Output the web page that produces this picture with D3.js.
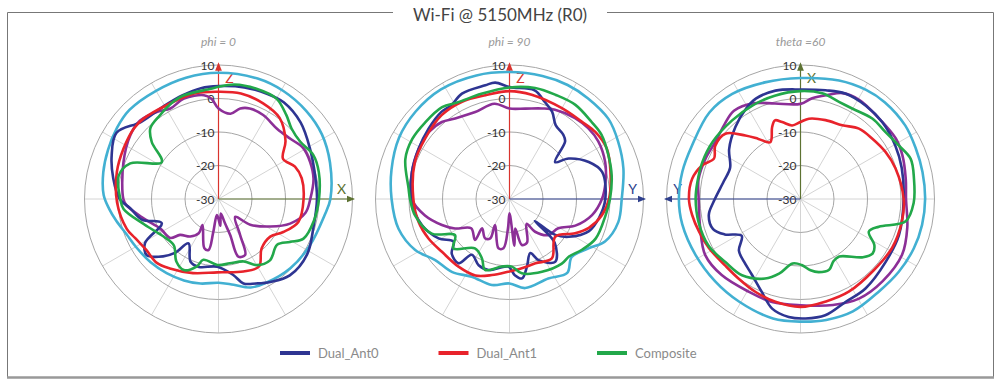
<!DOCTYPE html>
<html>
<head>
<meta charset="utf-8">
<script src="https://cdn.jsdelivr.net/npm/d3@7"></script>
<style>
  body { margin: 0; background: #fff; }
  svg text { font-family: Lato, "Open Sans", sans-serif; }
</style>
</head>
<body>
<div id="chart"></div>
<script>
// Chart text
var chartTitle = "Wi-Fi @ 5150MHz (R0)";
var subTitles = ["phi = 0", "phi = 90", "theta =60"];
var legendNames = ["Dual_Ant0", "Dual_Ant1", "Composite"];
var ringTicks = [10, 0, -10, -20, -30];

// Series as [angle deg (clockwise from up), gain dB]
// phi = 0
var phi0Cyan = [[0,7.7],[18,7.8],[31,7.6],[45,7.1],[58,6.4],[72,5.0],[90,3.4],[99,2.0],[117,0.6],[134,-0.2],[150,-1.2],[160,-1.9],[170,-4],[180,-5],[192,-4.2],[203,-3.6],[215,-3],[227,-2.3],[240,-1.5],[249,-0.6],[258,1.2],[265,2.8],[272,4.3],[283,5.3],[294,6.1],[305,7],[315,7.6],[330,7.3],[345,7.5]];
var phi0Ant0 = [[0,3.7],[13,4.2],[25,4.6],[34,4.8],[47,3.5],[61,1.2],[76,-0.3],[90,-0.6],[107,-0.4],[122,1.2],[137,1.2],[148,-0.8],[156,-2.4],[163.5,-3.7],[169,-6.9],[181,-9.8],[196,-8.9],[204,-9.5],[214,-14],[219,-9.3],[224,-6.2],[232,-2.8],[239,-4.4],[247,-11.6],[255,-6.3],[264,-3.5],[270,-0.5],[281,2],[292,4.4],[303,6.3],[315,2.6],[330,2.2],[341,2.8],[351,3.5]];
var phi0Ant1 = [[0,2.0],[12,2.2],[25,1.5],[37,0.3],[49,-3.5],[58,-7.3],[67,-5.2],[76,-4.4],[90,-4.6],[106,-5.2],[117,-8.3],[126,-10.9],[139,-10.4],[149,-6.5],[161,-7.1],[181,-8.1],[199,-6.6],[215,-4.7],[224,-3.5],[235,-3.6],[245,-2.5],[252,-1.2],[268,0.3],[285,1.4],[298,2.1],[310,2.9],[317,2.8],[331,2],[347,2.3]];
var phi0Comp = [[0,3.5],[8,4.5],[19,4.8],[30,4.6],[39,2.2],[46,0.3],[55,-0.2],[65,1.2],[75,1.0],[90,0],[103,-0.8],[115,-2],[121,-5.1],[128,-7.8],[140,-6.1],[150,-7.2],[158,-9.9],[170,-10.5],[181,-10.3],[194,-11.3],[198,-8.8],[206,-6.4],[214,-7.5],[224,-10.8],[236,-10.1],[251,-6.6],[264,-1.5],[270,-0.7],[283,0.6],[292,-1.6],[303,-9.8],[310.5,-3.8],[316,-0.7],[325,0.5],[335,2],[341,2.6],[356,3]];
var phi0Purple = [[0,-3],[8,-4.3],[13.5,-2.2],[19,-1.4],[28,-1.6],[40,-2.7],[50,-2],[59,-0.5],[68,-0.5],[78,-1],[90,-2.6],[99,-3.7],[109,-7.4],[118,-12.5],[129,-17.8],[137,-22.7],[149,-17.5],[154.5,-11.5],[161,-11.8],[162,-18.7],[165,-22.4],[171,-25.6],[176,-22],[180,-24],[186,-25.2],[189,-20],[191,-14.5],[196,-14.7],[211.6,-20.9],[210,-18.2],[217,-16],[227,-14.3],[231,-11.5],[243,-10.5],[255.5,-6.9],[266,-2.5],[270,-1.6],[291,0.4],[306,2.5],[315,3.1],[325,1.8],[332,0.6],[341,1.7],[352,1.3],[356,0]];

// phi = 90
var phi90Cyan = [[0,7.9],[15,8.0],[27,8.2],[38,8.1],[51,8],[62,6.7],[75,5.2],[90,3.5],[102,3.2],[114,1.2],[122,-2.2],[133,-4.6],[142,-2],[154,-3.6],[170,-3],[180,-4.8],[191.6,-3.8],[206,-4.2],[218,-2.3],[230.6,-1.3],[241.6,2],[255,4.3],[270,5.2],[284,6.3],[299,7.7],[313,8.3],[328,8.6],[345,8.2]];
var phi90Ant0 = [[0,3.4],[13,3.3],[20,0.8],[26,-1],[32,-4],[40,-5],[44,-6.1],[51,-12.5],[55.6,-8.6],[65,-3.9],[73.7,-1.2],[90,-1.4],[102,-2.7],[112,-4.4],[122.5,-9],[128,-12.6],[131,-20],[134,-11.3],[144,-6.8],[154.6,-9.8],[159,-12.7],[165.6,-9.1],[171,-6],[176,-7.2],[181,-9.8],[196.5,-7.9],[205,-8.2],[214,-9.9],[218.4,-5.5],[226.7,-6.3],[232.7,-9],[241,-5.8],[253.5,-2.7],[268.4,-0.8],[285.5,0.2],[299,1],[311,2],[322,3],[328,2.9],[335.7,4.5],[348,4.7],[353,5]];
var phi90Ant1 = [[0,2.2],[12,1.8],[30,1.3],[43,1.6],[52,2.5],[62.6,2.7],[75,1.2],[90,-0.3],[100,-2],[110,-4.8],[117.6,-7.9],[129.5,-12.3],[144.5,-8.2],[158,-9.3],[170,-9],[181,-8.3],[193,-6.7],[204,-5],[217,-4.7],[232,-4.4],[244,-3.1],[256,-2],[270,-1.3],[291,0.3],[305.6,1],[321,2.2],[334,2.3],[347,1.8]];
var phi90Comp = [[0,3.3],[13,4],[24,4],[35,4.3],[47,3.6],[55,3.5],[66,2.3],[77,1.3],[90,0],[99.5,-0.9],[114.7,-1.7],[125,-3.6],[134,-5.3],[141,-5.2],[156,-6.2],[170.6,-7.5],[178,-9.8],[186.5,-9.7],[199,-7.6],[205,-10.5],[215,-12],[228.6,-7.7],[236.5,-10.5],[246,-4.6],[260,-1.4],[270,-0.3],[276,0.3],[291,3.3],[301.7,4.1],[312,4],[323.7,4],[332,2.7],[345,2.5]];
var phi90Purple = [[0,-3],[10,-2.6],[19.7,-1.3],[27,-0.1],[39,1.1],[48,1.6],[57,1.6],[69,0.6],[80,-0.9],[90,-2.4],[101,-4.9],[112,-8.8],[121,-13],[133,-14.2],[142,-17.6],[145.5,-21],[158,-16],[165,-15.8],[169,-21],[174,-16],[180,-25.7],[183,-21.2],[187,-15.2],[192.6,-14.9],[209,-21.1],[206,-16.9],[212,-16.2],[223,-18],[220,-14],[232.6,-15.6],[241.6,-11.5],[249,-8.4],[259,-4.3],[270,-0.8],[285,0.2],[299,1],[309.6,1.3],[318.7,0.6],[326,-1],[338.5,-2.1],[351,-1.2]];

// theta = 60
var th60Cyan = [[0,6.1],[18,7.2],[31,8.0],[41,8.3],[55,8.2],[66,7.6],[77.5,7.3],[90,7.2],[102,7.1],[113.5,6.9],[126.5,6.5],[140,6.2],[155,7],[168,6.9],[180,6.6],[193,6.6],[211,5.7],[226,5.4],[242,5.5],[258,6.1],[270,6.3],[283,6.2],[296,6.1],[313.5,7.5],[327,7.4],[343,6.4]];
var th60Ant0 = [[0,2.7],[13,3.3],[23,4.2],[35,4],[46.7,3.5],[60.5,2.5],[73,1.6],[90,0.8],[110,1.3],[126.4,1.6],[144,3],[156,3.5],[168,5.5],[177.6,5.7],[185.7,5.4],[194.5,3.8],[202.5,0.1],[212.5,-3.1],[222,-4.8],[230,-6],[238,-9.3],[245,-5],[251,-2.4],[260,-2.2],[268,-4],[283,-6.5],[294,-7],[305,-4],[318,-1],[329,1.5],[336,2.8],[347,3.2]];
var th60Ant1 = [[0,-7],[6,-5.9],[17.6,-5.3],[29.5,-4.7],[39.7,-2.7],[50,-2],[61,-1],[72,-0.2],[90,0.8],[102.6,1],[118,1],[134.6,0.5],[152.5,1.2],[166,1.5],[180,2.2],[193.7,1.6],[206,0.8],[218,0.1],[228.7,0],[241.7,1],[252,1.8],[261.6,2.7],[270,3.3],[280.6,2.9],[289,1],[295,-1.5],[302,0],[311,-0.3],[319,-4.9],[325,-8.1],[332,-10.8],[338.5,-6.9],[342,-5.3],[346.6,-6.4],[353.5,-7.9]];
var th60Comp = [[0,2.2],[11.6,2.2],[21.6,1.2],[30,1.1],[41.7,2.2],[51.8,2.3],[61.4,3.4],[70,5],[80,4.4],[92,3.8],[102,2.1],[109.5,-5.2],[115.5,-7.4],[122,-4],[127,-3],[133,-4.5],[146,-9.3],[152,-9],[158,-7.2],[166,-7.5],[172,-8.5],[179,-10.3],[187,-10.6],[196,-6.8],[204,-4],[217.5,-1.3],[230,-0.7],[243,0.8],[257.4,1.2],[270,1.3],[279,1.2],[290.6,1.3],[303,1.3],[319,1.1],[333,1.4],[346,1.8]];
var th60Purple = [[0,-1.6],[6.6,0.3],[15,2.2],[21.6,4],[30.6,4.4],[44,3.6],[57.6,3.7],[66.8,3.1],[79,2],[90,1.5],[105,3],[118.8,4.6],[135,4.7],[149.6,4.5],[163,3.1],[180,1.7],[195.4,1.9],[209,1.7],[226,2.7],[239.5,3],[253.6,1.2],[270,0.4],[281,1],[293,0.8],[304,0.6],[314.5,1.8],[323,3],[334,1.8],[345,-0.5]];

var colors = {ant0: "#2e3592", ant1: "#e8232b", comp: "#22a84a", purple: "#8c2f97", cyan: "#42b0d2"};

//Create chart space
var svgWidth = 1000;
var svgHeight = 386;
var outerR = 134;
var cy = 199;

var svg = d3.select("#chart")
    .append("svg")
    .attr("width", svgWidth)
    .attr("height", svgHeight);

// Frame with the title breaking the top line
svg.append("path")
    .attr("d", "M393,12.5 H7.5 V377 M993.5,377 V12.5 H607")
    .attr("fill", "none")
    .attr("stroke", "#777")
    .attr("stroke-width", 1);
svg.append("line")
    .attr("x1", 7).attr("x2", 994)
    .attr("y1", 377.5).attr("y2", 377.5)
    .attr("stroke", "#999")
    .attr("stroke-width", 2.5);

svg.append("text")
    .attr("x", 500).attr("y", 14)
    .attr("text-anchor", "middle")
    .attr("dominant-baseline", "central")
    .attr("font-size", 17)
    .attr("fill", "#444")
    .text(chartTitle);

var xBand = d3.scaleBand().domain(subTitles).range([73, 946]);
var rScale = d3.scaleLinear().domain([-30, 10]).range([0, outerR]).clamp(true);

var panels = [
    {name: subTitles[0], series: [phi0Cyan, phi0Purple, phi0Ant0, phi0Ant1, phi0Comp],
     up: {label: "Z", color: "#d9342e"}, side: {label: "X", color: "#5d7232", dir: 1}},
    {name: subTitles[1], series: [phi90Cyan, phi90Purple, phi90Ant0, phi90Ant1, phi90Comp],
     up: {label: "Z", color: "#d9342e"}, side: {label: "Y", color: "#2e3f8c", dir: 1}},
    {name: subTitles[2], series: [th60Cyan, th60Purple, th60Ant0, th60Ant1, th60Comp],
     up: {label: "X", color: "#5d7232"}, side: {label: "Y", color: "#2e3f8c", dir: -1}}
];
var seriesColors = [colors.cyan, colors.purple, colors.ant0, colors.ant1, colors.comp];

var defs = svg.append("defs");
["#d9342e", "#5d7232", "#2e3f8c"].forEach(function(c, i) {
    defs.append("marker")
        .attr("id", "arrow" + i)
        .attr("viewBox", "0 0 10 10")
        .attr("refX", 8).attr("refY", 5)
        .attr("markerWidth", 7).attr("markerHeight", 7)
        .attr("orient", "auto")
        .append("path")
        .attr("d", "M0,1 L10,5 L0,9 Z")
        .attr("fill", c);
});
function markerFor(c) {
    return "url(#arrow" + ["#d9342e", "#5d7232", "#2e3f8c"].indexOf(c) + ")";
}

var radial = d3.lineRadial()
    .angle(d => d[0] * Math.PI / 180)
    .radius(d => rScale(d[1]))
    .curve(d3.curveCatmullRomClosed.alpha(0.5));

panels.forEach(function(p) {
    var cx = xBand(p.name) + xBand.bandwidth() / 2;

    svg.append("text")
        .attr("x", cx).attr("y", 41)
        .attr("text-anchor", "middle")
        .attr("dominant-baseline", "central")
        .attr("font-size", 12)
        .attr("font-style", "italic")
        .attr("fill", "#9a9a9a")
        .text(p.name);

    var g = svg.append("g")
        .attr("transform", `translate(${cx}, ${cy})`);

    // spokes every 30 degrees
    g.selectAll(".spoke")
        .data(d3.range(0, 360, 30))
        .enter().append("line")
        .attr("x1", 0).attr("y1", 0)
        .attr("x2", d => outerR * Math.sin(d * Math.PI / 180))
        .attr("y2", d => -outerR * Math.cos(d * Math.PI / 180))
        .attr("stroke", "#d4d4d4")
        .attr("stroke-width", 1);

    // rings
    g.selectAll(".ring")
        .data(ringTicks.filter(t => t > -30))
        .enter().append("circle")
        .attr("r", d => rScale(d))
        .attr("fill", "none")
        .attr("stroke", "#a6a6a6")
        .attr("stroke-width", 1);

    // ring labels
    g.selectAll(".tick")
        .data(ringTicks)
        .enter().append("text")
        .attr("x", -4)
        .attr("y", d => -rScale(d))
        .attr("text-anchor", "end")
        .attr("dominant-baseline", "central")
        .attr("font-family", "'Open Sans', sans-serif")
        .attr("font-size", 12)
        .attr("fill", "#333")
        .text(d => d);

    // axis arrows
    g.append("line")
        .attr("x1", 0).attr("y1", 0)
        .attr("x2", 0).attr("y2", -outerR - 1)
        .attr("stroke", p.up.color)
        .attr("stroke-width", 1.2)
        .attr("marker-end", markerFor(p.up.color));
    g.append("text")
        .attr("x", 11).attr("y", -122)
        .attr("text-anchor", "middle")
        .attr("dominant-baseline", "central")
        .attr("font-family", "'Open Sans', sans-serif")
        .attr("font-size", 14)
        .attr("fill", p.up.color)
        .text(p.up.label);

    g.append("line")
        .attr("x1", 0).attr("y1", 0)
        .attr("x2", p.side.dir * (outerR + 1)).attr("y2", 0)
        .attr("stroke", p.side.color)
        .attr("stroke-width", 1.2)
        .attr("marker-end", markerFor(p.side.color));
    g.append("text")
        .attr("x", p.side.dir * 123).attr("y", -11)
        .attr("text-anchor", "middle")
        .attr("dominant-baseline", "central")
        .attr("font-family", "'Open Sans', sans-serif")
        .attr("font-size", 14)
        .attr("fill", p.side.color)
        .text(p.side.label);

    // pattern curves
    g.selectAll(".pattern")
        .data(p.series)
        .enter().append("path")
        .attr("d", d => radial(d))
        .attr("fill", "none")
        .attr("stroke", (d, i) => seriesColors[i])
        .attr("stroke-width", 2.6)
        .attr("stroke-linejoin", "round");
});

// Legend
var legendX = d3.scalePoint().domain(legendNames).range([280, 597]);
var legendColors = [colors.ant0, colors.ant1, colors.comp];
var legend = svg.selectAll(".legend")
    .data(legendNames)
    .enter().append("g")
    .attr("transform", d => `translate(${legendX(d)}, 353)`);
legend.append("line")
    .attr("x1", 0).attr("x2", 30)
    .attr("stroke", (d, i) => legendColors[i])
    .attr("stroke-width", 4);
legend.append("text")
    .attr("x", 38)
    .attr("dominant-baseline", "central")
    .attr("font-size", 13)
    .attr("fill", "#8a8a8a")
    .text(d => d);
</script>
</body>
</html>
